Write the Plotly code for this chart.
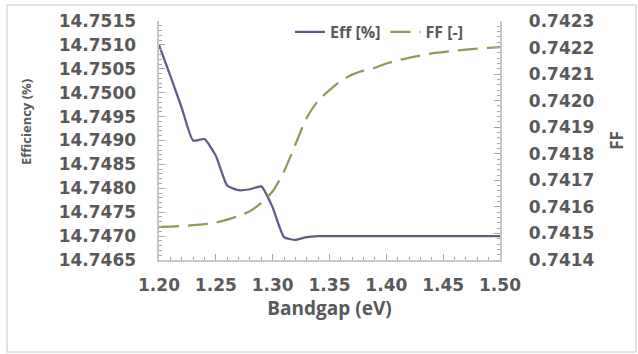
import plotly.graph_objects as go

# Bandgap sweep (eV)
bandgap = [1.20, 1.21, 1.22, 1.23, 1.24, 1.25, 1.26, 1.27, 1.28, 1.29, 1.30,
           1.31, 1.32, 1.33, 1.34, 1.35, 1.36, 1.37, 1.38, 1.39, 1.40,
           1.41, 1.42, 1.43, 1.44, 1.45, 1.46, 1.47, 1.48, 1.49, 1.50]

# Efficiency (%) at each bandgap
efficiency = [14.75100, 14.75035, 14.74968, 14.74900, 14.74903, 14.74868, 14.74806,
              14.74796, 14.74798, 14.74804, 14.74760, 14.74698, 14.74692, 14.74698,
              14.74700, 14.74700, 14.74700, 14.74700, 14.74700, 14.74700, 14.74700,
              14.74700, 14.74700, 14.74700, 14.74700, 14.74700, 14.74700, 14.74700,
              14.74700, 14.74700, 14.74700]

# Fill factor (-) at each bandgap
fill_factor = [0.741525, 0.741526, 0.741528, 0.741531, 0.741535, 0.741541, 0.741552,
               0.741566, 0.741584, 0.741615, 0.741659, 0.741734, 0.741835, 0.741936,
               0.742000, 0.742040, 0.742075, 0.742098, 0.742113, 0.742124, 0.742140,
               0.742152, 0.742161, 0.742170, 0.742178, 0.742183, 0.742188, 0.742192,
               0.742196, 0.742199, 0.742202]

x_ticks = [1.20, 1.25, 1.30, 1.35, 1.40, 1.45, 1.50]
eff_ticks = [14.7465, 14.7470, 14.7475, 14.7480, 14.7485, 14.7490,
             14.7495, 14.7500, 14.7505, 14.7510, 14.7515]
ff_ticks = [0.7414, 0.7415, 0.7416, 0.7417, 0.7418, 0.7419,
            0.7420, 0.7421, 0.7422, 0.7423]

TEXT = "#595959"
AXIS = "#c8c8c8"
TICK = "#a8a8a8"
NBSP = "\u00a0"
tick_font = dict(family="DejaVu Sans", size=17, color=TEXT, weight="bold")

fig = go.Figure()
fig.add_trace(go.Scatter(
    x=bandgap, y=efficiency, name="Eff [%]", mode="lines",
    line=dict(color="#5f5a8c", width=2.25, shape="spline", smoothing=0.5),
    xaxis="x", yaxis="y",
))
fig.add_trace(go.Scatter(
    x=bandgap, y=fill_factor, name="FF [-]", mode="lines",
    line=dict(color="#8c9a5c", width=2.25, dash="20px,9px", shape="spline", smoothing=0.7),
    xaxis="x2", yaxis="y2",
))

L, R, T, B = 159, 138, 21, 94
W, H = 638, 354
pw, ph = W - L - R, H - T - B

def px_x(p):
    return (p - L) / pw

def px_y(p):
    return (H - B - p) / ph

def minor_ticks(step, start):
    return dict(dtick=step, tick0=start, ticks="inside", ticklen=3,
                tickcolor=TICK, tickwidth=1, showgrid=False)

fig.update_layout(
    width=W, height=H,
    margin=dict(l=L, r=R, t=T, b=B, pad=0),
    paper_bgcolor="white", plot_bgcolor="white",
    showlegend=True,
    legend=dict(
        orientation="h", x=px_x(290), y=px_y(15), xanchor="left", yanchor="top",
        font=dict(family="Open Sans", size=16, color=TEXT, weight="bold"),
        bgcolor="rgba(0,0,0,0)", itemwidth=30, tracegroupgap=0,
    ),
    # bottom axis: line and inside ticks
    xaxis=dict(
        range=[1.20, 1.50], tickmode="array", tickvals=x_ticks,
        showticklabels=False,
        showgrid=False, zeroline=False,
        showline=True, linecolor=AXIS, linewidth=1.5,
        ticks="inside", ticklen=6, tickcolor=TICK, tickwidth=1,
        minor=minor_ticks(0.01, 1.20),
    ),
    # bottom axis of the FF layer: carries the tick labels and the title
    xaxis2=dict(
        overlaying="x", anchor="y", side="bottom",
        range=[1.20, 1.50], tickmode="array", tickvals=x_ticks,
        ticktext=[f"{v:.2f}" for v in x_ticks],
        showgrid=False, zeroline=False, showline=False, ticks="",
        tickfont=tick_font, ticklabelstandoff=13,
        title=dict(text="Bandgap (eV)",
                   font=dict(family="Open Sans", size=19, color=TEXT, weight="bold"),
                   standoff=2),
    ),
    yaxis=dict(
        range=[14.7465, 14.7515], tickmode="array", tickvals=eff_ticks,
        ticktext=[f"{v:.4f}" + NBSP * 3 for v in eff_ticks],
        showgrid=False, zeroline=False,
        showline=True, linecolor=AXIS, linewidth=1.5,
        ticks="inside", ticklen=6, tickcolor=TICK, tickwidth=1,
        minor=minor_ticks(0.0001, 14.7465),
        tickfont=tick_font,
    ),
    yaxis2=dict(
        overlaying="y", anchor="x2", side="right",
        range=[0.7414, 0.7423], tickmode="array", tickvals=ff_ticks,
        ticktext=[NBSP * 4 + f"{v:.4f}" for v in ff_ticks],
        showgrid=False, zeroline=False,
        showline=True, linecolor=AXIS, linewidth=1.5,
        ticks="inside", ticklen=6, tickcolor=TICK, tickwidth=1,
        minor=minor_ticks(0.00002, 0.7414),
        tickfont=tick_font,
        title=dict(text="FF",
                   font=dict(family="Open Sans", size=17, color=TEXT, weight="bold"),
                   standoff=18),
    ),
    annotations=[dict(
        text="Efficiency (%)", textangle=-90, showarrow=False,
        xref="paper", yref="paper", x=px_x(26), y=px_y(122),
        xanchor="center", yanchor="middle",
        font=dict(family="Open Sans", size=13, color=TEXT, weight="bold"),
    )],
    shapes=[dict(
        type="rect", xref="paper", yref="paper", layer="below",
        x0=px_x(7), x1=px_x(636), y0=px_y(352), y1=px_y(5),
        line=dict(color="#d9d9d9", width=1.5), fillcolor="rgba(0,0,0,0)",
    )],
)

fig.write_html("out.html")
